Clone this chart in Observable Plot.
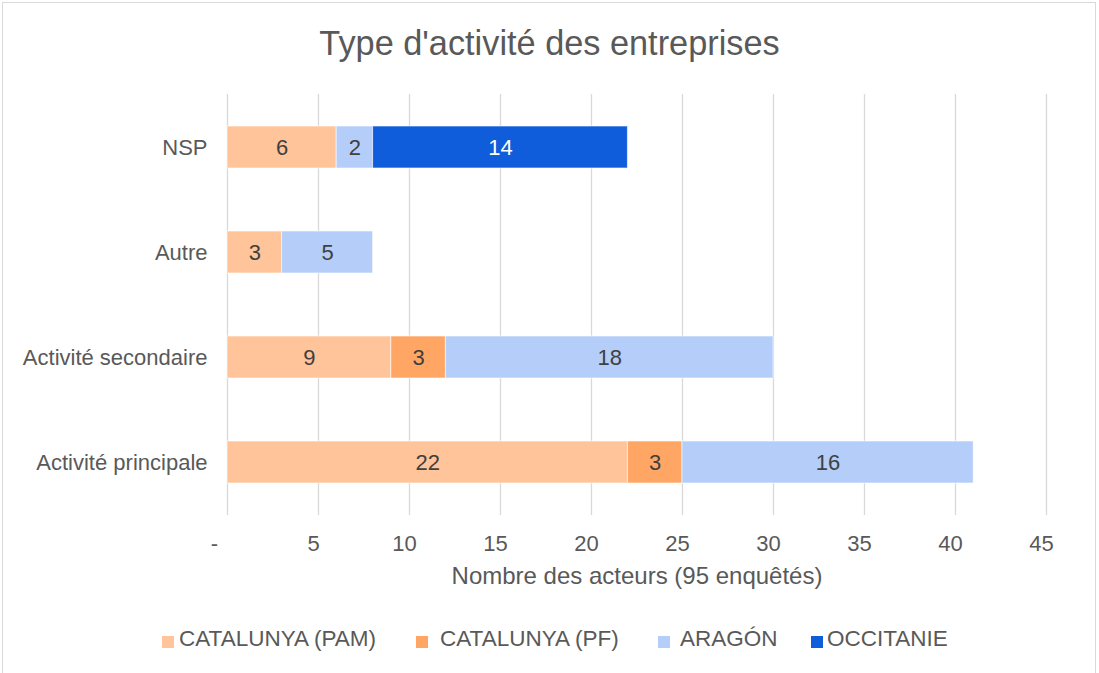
<!DOCTYPE html>
<html>
<head>
<meta charset="utf-8">
<script src="https://cdn.jsdelivr.net/npm/d3@7"></script>
<script src="https://cdn.jsdelivr.net/npm/@observablehq/plot@0.6"></script>
<style>
  body { margin: 0; background: #fff; font-family: "Liberation Sans", Arial, sans-serif; }
  #wrap { position: relative; width: 1099px; height: 673px; overflow: hidden; }
  #border { position: absolute; left: 2px; top: 2px; width: 1094px; height: 680px; border: 1px solid #d9d9d9; box-sizing: border-box; }
  #title { position: absolute; left: 0; top: 26px; width: 1099px; text-align: center; font-size: 34.3px; line-height: 34px; color: #595959; }
  #chart { position: absolute; left: 0; top: 0; }
  #legend { position: absolute; left: 0; top: 0; width: 1099px; height: 673px; font-size: 22.5px; line-height: 22px; color: #595959; }
  .sw { position: absolute; width: 12px; height: 12px; top: 636px; }
  .lt { position: absolute; top: 628px; white-space: nowrap; }
</style>
</head>
<body>
<div id="wrap">
  <div id="border"></div>
  <div id="title">Type d'activité des entreprises</div>
  <div id="chart"></div>
  <div id="legend"></div>
</div>
<script>
const categories = ["NSP", "Autre", "Activité secondaire", "Activité principale"];
const series = ["CATALUNYA (PAM)", "CATALUNYA (PF)", "ARAGÓN", "OCCITANIE"];
const colors = ["#ffc499", "#ffa664", "#b4cdf9", "#0f5ddb"];
// values per category (same order as categories)
const pam = [6, 3, 9, 22];
const pf = [0, 0, 3, 3];
const aragon = [2, 5, 18, 16];
const occitanie = [14, 0, 0, 0];
const xTicks = [0, 5, 10, 15, 20, 25, 30, 35, 40, 45];

const seriesValues = [pam, pf, aragon, occitanie];
const rows = [];
series.forEach((s, si) => {
  categories.forEach((c, ci) => {
    const v = seriesValues[si][ci];
    if (v > 0) rows.push({ cat: c, series: s, value: v });
  });
});

const chart = Plot.plot({
  width: 1099,
  height: 600,
  marginLeft: 227,
  marginRight: 53,
  marginTop: 94,
  marginBottom: 85,
  style: { fontFamily: "Liberation Sans, Arial, sans-serif", fontSize: "22px", color: "#595959", background: "transparent" },
  x: { domain: [0, 45] },
  y: { domain: categories, paddingInner: 0.6, paddingOuter: 0.3 },
  color: { domain: series, range: colors },
  marks: [
    Plot.gridX(xTicks, { stroke: "#d9d9d9", strokeOpacity: 1, strokeWidth: 1.3 }),
    Plot.barX(rows, Plot.stackX({ x: "value", y: "cat", fill: "series", order: series, stroke: "white", strokeOpacity: 0.6, strokeWidth: 1 })),
    Plot.text(rows, Plot.stackX({ x: "value", y: "cat", z: "series", order: series, text: d => String(d.value),
      fill: d => d.series === "OCCITANIE" ? "white" : "#404040", fontSize: 22 })),
    Plot.axisX({ ticks: xTicks.filter(d => d !== 0), tickFormat: d => String(d), tickSize: 0, tickPadding: 20, dx: -5,
      label: null, fill: "#595959" }),
    Plot.axisX({ ticks: [0], tickFormat: () => "-", tickSize: 0, tickPadding: 20, dx: -13,
      label: null, fill: "#595959" }),
    Plot.axisX({ ticks: [], tickSize: 0, label: "Nombre des acteurs (95 enquêtés)", labelAnchor: "center",
      labelArrow: "none", labelOffset: 68, fill: "#595959", fontSize: 24 }),
    Plot.axisY({ tickSize: 0, tickPadding: 20, label: null, fill: "#595959" })
  ]
});
document.getElementById("chart").appendChild(chart);

const legend = document.getElementById("legend");
const swX = [162, 416, 658, 811];
const txX = [179, 440, 680, 827];
series.forEach((s, i) => {
  const sw = document.createElement("div");
  sw.className = "sw";
  sw.style.left = swX[i] + "px";
  sw.style.background = colors[i];
  const t = document.createElement("div");
  t.className = "lt";
  t.style.left = txX[i] + "px";
  t.textContent = s;
  legend.appendChild(sw);
  legend.appendChild(t);
});
</script>
</body>
</html>
